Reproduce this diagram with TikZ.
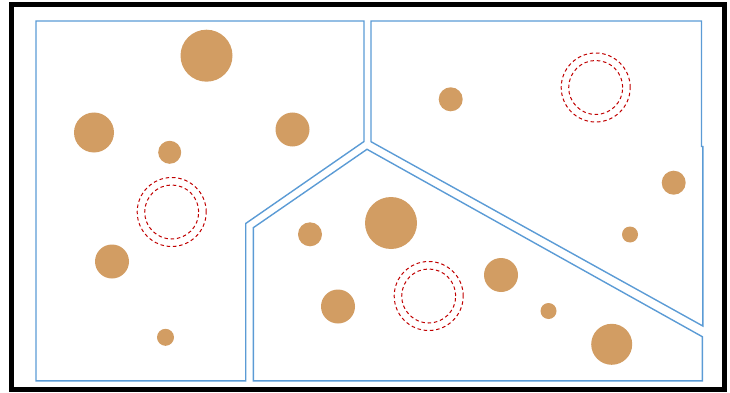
\documentclass[tikz,border=0pt]{standalone}
\usepackage{xcolor}
\definecolor{cFrame}{HTML}{000000}
\definecolor{cZone}{HTML}{5B9BD5}
\definecolor{cGrain}{HTML}{D29D63}
\definecolor{cVoid}{HTML}{C00000}
\usepackage{tikz}
\usetikzlibrary{positioning}
\tikzset{
  frame/.style={draw=cFrame,line width=5pt},
  zone/.style={draw=cZone,line width=1.4pt,line join=miter},
  grain/.style={circle,fill=cGrain,draw=none,inner sep=0pt,outer sep=0pt},
  % 空位：双层红色虚线圆
  void-out/.style={circle,draw=cVoid,line width=1pt,inner sep=0pt,
    minimum size=69pt,dash pattern=on 3.5pt off 2.8pt},
  void-in/.style={circle,draw=cVoid,line width=1pt,inner sep=0pt,
    minimum size=54pt,dash pattern=on 3.5pt off 2.8pt},
}
\begin{document}
\begin{tikzpicture}[x=1pt,y=-1pt]
  \useasboundingbox (0,0) rectangle (730,393);
  \draw[frame] (11.5,4.5) rectangle (724.5,389.5);
  % 三个区域
  \draw[zone] (36,21) -- (364,21) -- (364,141.5) -- (245.7,223.5)
    -- (245.7,380.8) -- (36,380.8) -- cycle;
  \draw[zone] (371,21) -- (701.5,21) -- (701.5,146.5) -- (702.8,146.5)
    -- (702.8,326) -- (371,141.7) -- cycle;
  \draw[zone] (367,149.3) -- (702.3,336.7) -- (702.3,380.8)
    -- (253.3,380.8) -- (253.3,227.7) -- cycle;
  % 颗粒
  \node[grain,minimum size=52pt] (g1)  at (206.5,55.7) {};
  \node[grain,minimum size=40pt] (g2)  at (94,132.5)   {};
  \node[grain,minimum size=23pt] (g3)  at (169.7,152.3) {};
  \node[grain,minimum size=34pt] (g4)  at (292.5,129.5) {};
  \node[grain,minimum size=34pt] (g5)  at (112,261.5)  {};
  \node[grain,minimum size=17pt] (g6)  at (165.5,337.3) {};
  \node[grain,minimum size=24pt] (g7)  at (450.7,99.3) {};
  \node[grain,minimum size=24pt] (g8)  at (673.7,182.7) {};
  \node[grain,minimum size=16pt] (g9)  at (630,234.5)  {};
  \node[grain,minimum size=52pt] (g10) at (391,223)    {};
  \node[grain,minimum size=24pt] (g11) at (310,234.3)  {};
  \node[grain,minimum size=34pt] (g12) at (338,306.5)  {};
  \node[grain,minimum size=34pt] (g13) at (501,275)    {};
  \node[grain,minimum size=16pt] (g14) at (548.5,311)  {};
  \node[grain,minimum size=41pt] (g15) at (611.7,344.3) {};
  % 空位
  \node[void-out] (v1o) at (171.7,212) {};
  \node[void-in]  (v1i) at (171.7,212) {};
  \node[void-out] (v2o) at (595.7,87.5) {};
  \node[void-in]  (v2i) at (595.7,87.5) {};
  \node[void-out] (v3o) at (428.7,296) {};
  \node[void-in]  (v3i) at (428.7,296) {};
\end{tikzpicture}
\end{document}
